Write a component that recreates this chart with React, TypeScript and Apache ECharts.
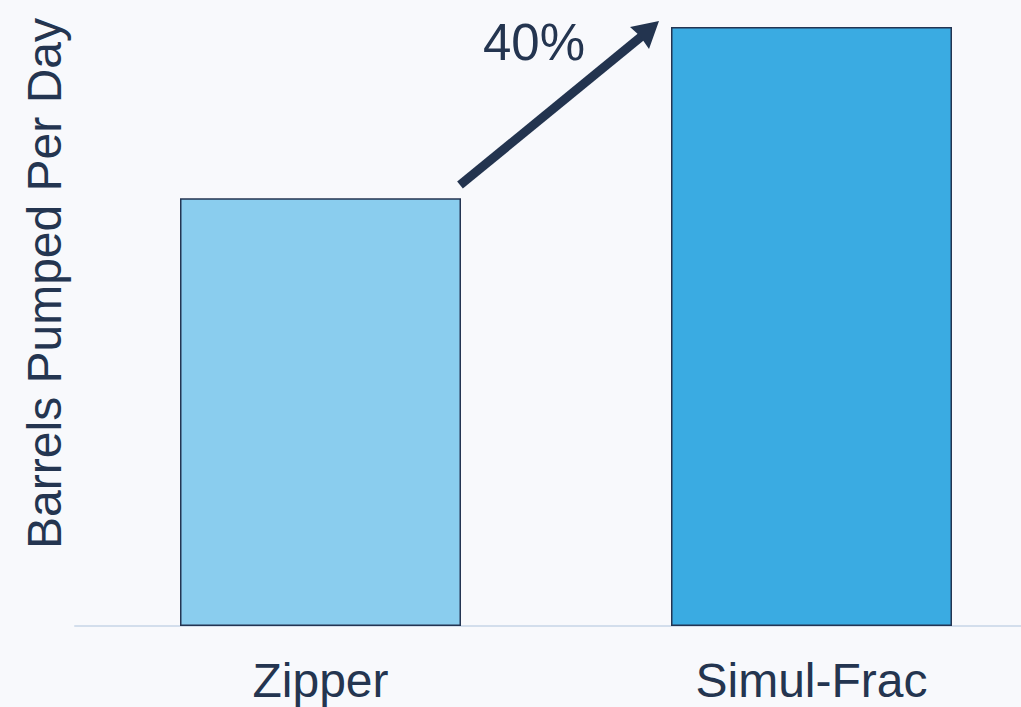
import React, { useEffect, useRef } from "react";
import * as echarts from "echarts";

const categories = ["Zipper", "Simul-Frac"];
const barrelsPerDay = [100, 140];
const barColors = ["#8acdee", "#3aabe2"];
const yAxisTitle = "Barrels Pumped Per Day";
const increaseLabel = "40%";

const TEXT = "#243550";

export default function App() {
  const ref = useRef<HTMLDivElement>(null);
  useEffect(() => {
    if (!ref.current) return;
    const chart = echarts.init(ref.current, null, { renderer: "svg" });
    chart.setOption({
      animation: false,
      backgroundColor: "#f8f9fc",
      textStyle: { fontFamily: "Liberation Sans, Arial, sans-serif" },
      grid: {
        left: 75,
        top: 27,
        right: -36,
        bottom: 81,
        containLabel: false,
        outerBoundsMode: "none",
      },
      xAxis: {
        type: "category",
        data: categories,
        axisLine: { lineStyle: { color: "#d3deec", width: 2 } },
        axisTick: { show: false },
        axisLabel: { color: TEXT, fontSize: 48, margin: 30 },
      },
      yAxis: {
        type: "value",
        min: 0,
        max: 140,
        show: false,
      },
      series: [
        {
          type: "bar",
          barWidth: 281,
          data: barrelsPerDay.map((v, i) => ({
            value: v,
            itemStyle: { color: barColors[i] },
          })),
          itemStyle: { borderColor: "#243552", borderWidth: 1.5 },
        },
      ],
      graphic: [
        {
          type: "text",
          rotation: Math.PI / 2,
          style: {
            text: yAxisTitle,
            fill: TEXT,
            fontSize: 48,
            fontFamily: "Liberation Sans, Arial, sans-serif",
            align: "right",
            verticalAlign: "top",
          },
          x: 20,
          y: 18,
        },
        {
          type: "text",
          x: 534,
          y: 42,
          style: {
            text: increaseLabel,
            fill: TEXT,
            fontSize: 51,
            fontFamily: "Liberation Sans, Arial, sans-serif",
            align: "center",
            verticalAlign: "middle",
          },
        },
        {
          type: "line",
          shape: { x1: 460, y1: 185, x2: 642, y2: 36 },
          style: { stroke: "#23344f", lineWidth: 9 },
        },
        {
          type: "polygon",
          shape: { points: [[659, 21], [630, 27], [640, 36], [649, 49]] },
          style: { fill: "#23344f" },
        },
      ],
    });
    return () => chart.dispose();
  }, []);
  return (
    <div
      ref={ref}
      style={{ position: "absolute", left: 0, top: 0, width: 1021, height: 707 }}
    />
  );
}
